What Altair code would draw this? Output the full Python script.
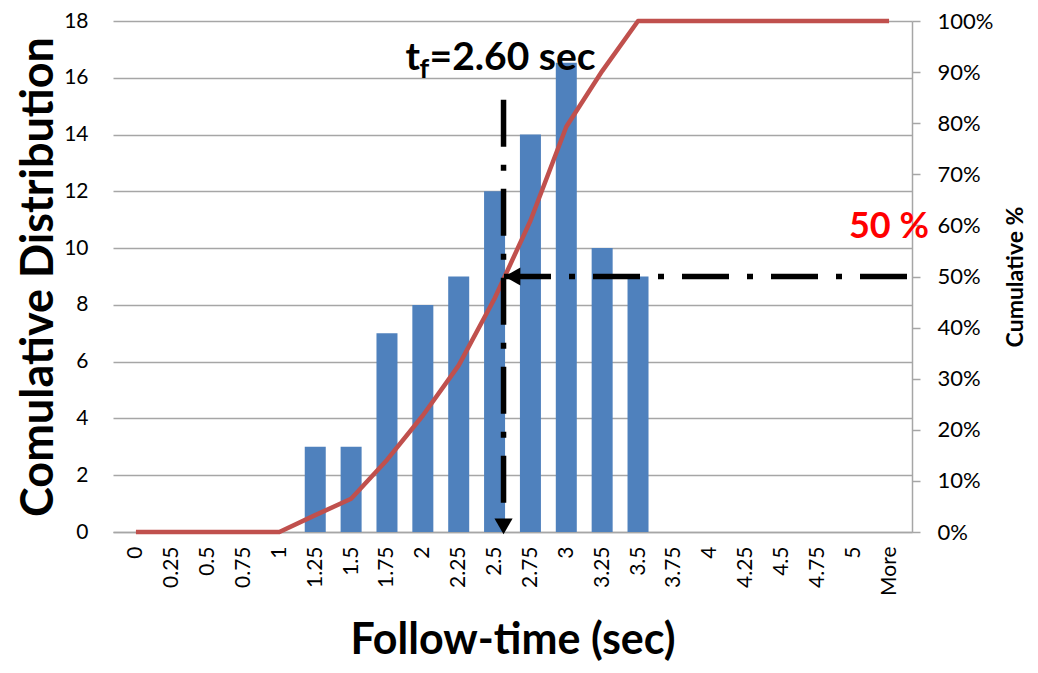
import json
import altair as alt
import pandas as pd

# ---- data ----
categories = ["0", "0.25", "0.5", "0.75", "1", "1.25", "1.5", "1.75", "2", "2.25",
              "2.5", "2.75", "3", "3.25", "3.5", "3.75", "4", "4.25", "4.5", "4.75",
              "5", "More"]
counts = [0, 0, 0, 0, 0, 3, 3, 7, 8, 9, 12, 14, 17, 10, 9, 0, 0, 0, 0, 0, 0, 0]
cum_pct = [0, 0, 0, 0, 0, 3.3, 6.5, 14.1, 22.8, 32.6, 45.7, 60.9, 79.3, 90.2, 100,
           100, 100, 100, 100, 100, 100, 100]

# ---- annotation values (data units: category index / count / percent) ----
tf_x = [10.25]            # where the t_f marker sits (between 2.5 and 2.75)
tf_top = [15.23]          # top of the vertical dash-dot line (count units)
tf_text_y = [16.28]       # baseline of the t_f label (count units)
half_pct = [50]           # horizontal 50 % reference
right_edge = [21.5]
box_x = [7.26]
box_x2 = [12.9]
box_y = [16.53]
box_y2 = [17.93]
down_arrow_y = [0.2]
left_arrow_x = [10.5]
fifty_label_y = [57.6]

FONT = "Lato"
GRID = "#A6A6A6"
n = len(categories)

df = pd.DataFrame({"idx": list(range(n)), "cat": categories,
                   "count": counts, "pct": cum_pct})

xscale = alt.Scale(domain=[-0.5, n - 0.5], nice=False, zero=False)
yc_scale = alt.Scale(domain=[0, 18], nice=False, zero=True)
yp_scale = alt.Scale(domain=[0, 100], nice=False, zero=True)

label_expr = json.dumps(categories).replace('"', "'") + "[datum.value]"

x_axis = alt.Axis(values=list(range(n)), labelExpr=label_expr, labelAngle=270,
                  labelFontSize=21, labelFont=FONT, labelColor="black",
                  labelPadding=14, labelOverlap=False, labelFlush=False,
                  labelBound=False, tickCount=n,
                  ticks=False, grid=False, domainColor=GRID, domainWidth=1.5,
                  title="Follow-time (sec)", titleFont=FONT, titleFontSize=43,
                  titleFontWeight="bold", titleColor="black", titlePadding=24)

yc_axis = alt.Axis(values=list(range(0, 19, 2)), orient="left", grid=True,
                   gridColor=GRID, gridWidth=1.5, ticks=False, domain=False,
                   labelFontSize=21, labelFont=FONT, labelColor="black",
                   labelPadding=25,
                   title="Comulative Distribution", titleFont=FONT,
                   titleFontSize=45, titleFontWeight="bold", titleColor="black",
                   titlePadding=2)

yp_axis = alt.Axis(values=list(range(0, 101, 10)), orient="right", grid=False,
                   labelExpr="datum.value + '%'", tickSize=8, tickColor=GRID,
                   tickWidth=1.5, domainColor=GRID, domainWidth=1.5,
                   labelFontSize=22, labelFont=FONT, labelColor="black",
                   labelPadding=17,
                   title="Cumulative %", titleFont=FONT, titleFontSize=23,
                   titleFontWeight="bold", titleColor="black", titleAngle=270,
                   titleBaseline="top", titlePadding=12)

base = alt.Chart(df)


def X(field):
    return alt.X(field, scale=xscale, axis=x_axis)


bars = base.mark_bar(color="#4F81BD", size=21).encode(
    x=X("idx:Q"),
    y=alt.Y("count:Q", scale=yc_scale, axis=yc_axis),
)

line = base.mark_line(color="#C0504D", strokeWidth=4.5, strokeJoin="round").encode(
    x=X("idx:Q"),
    y=alt.Y("pct:Q", scale=yp_scale, axis=yp_axis),
)

# white text-box fill behind the t_f label
box_df = pd.DataFrame({"x": box_x, "x2": box_x2, "y": box_y, "y2": box_y2})
box = alt.Chart(box_df).mark_rect(color="white").encode(
    x=X("x:Q"), x2="x2:Q",
    y=alt.Y("y:Q", scale=yc_scale, axis=None), y2="y2:Q",
)

vrule_df = pd.DataFrame({"x": tf_x, "y": tf_top, "y2": [0]})
vrule = alt.Chart(vrule_df).mark_rule(color="black", strokeWidth=5.5,
                                      strokeDash=[47, 18, 6, 18]).encode(
    x=X("x:Q"),
    y=alt.Y("y:Q", scale=yc_scale, axis=None), y2="y2:Q",
)

down_df = pd.DataFrame({"x": tf_x, "y": down_arrow_y})
down_arrow = alt.Chart(down_df).mark_point(shape="triangle-down", filled=True,
                                           color="black", size=330, opacity=1).encode(
    x=X("x:Q"),
    y=alt.Y("y:Q", scale=yc_scale, axis=None),
)

t_df = pd.DataFrame({"x": tf_x, "y": tf_text_y})
t_main = alt.Chart(t_df).mark_text(text="t", font=FONT, fontSize=39, fontWeight="bold",
                                   align="left", baseline="alphabetic", dx=-98,
                                   color="black").encode(
    x=X("x:Q"),
    y=alt.Y("y:Q", scale=yc_scale, axis=None),
)
t_sub = alt.Chart(t_df).mark_text(text="f", font=FONT, fontSize=27, fontWeight="bold",
                                  align="left", baseline="alphabetic", dx=-84, dy=8,
                                  color="black").encode(
    x=X("x:Q"),
    y=alt.Y("y:Q", scale=yc_scale, axis=None),
)
t_rest = alt.Chart(t_df).mark_text(text="=2.60 sec", font=FONT, fontSize=39,
                                   fontWeight="bold", align="left",
                                   baseline="alphabetic", dx=-74,
                                   color="black").encode(
    x=X("x:Q"),
    y=alt.Y("y:Q", scale=yc_scale, axis=None),
)

hrule_df = pd.DataFrame({"x": right_edge, "x2": tf_x, "y": half_pct})
hrule = alt.Chart(hrule_df).mark_rule(color="black", strokeWidth=5.5,
                                      strokeDash=[47, 18, 6, 18]).encode(
    x=X("x:Q"), x2="x2:Q",
    y=alt.Y("y:Q", scale=yp_scale, axis=None),
)

left_df = pd.DataFrame({"x": left_arrow_x, "y": half_pct})
left_arrow = alt.Chart(left_df).mark_point(shape="triangle-left", filled=True,
                                           color="black", size=330, opacity=1).encode(
    x=X("x:Q"),
    y=alt.Y("y:Q", scale=yp_scale, axis=None),
)

fifty_df = pd.DataFrame({"x": right_edge, "y": fifty_label_y})
fifty = alt.Chart(fifty_df).mark_text(text="50 %", font=FONT, fontSize=36,
                                      fontWeight="bold", color="#FF0000",
                                      align="right", baseline="alphabetic",
                                      dx=22).encode(
    x=X("x:Q"),
    y=alt.Y("y:Q", scale=yp_scale, axis=None),
)

chart = alt.layer(bars, line, box, vrule, down_arrow, t_main, t_sub, t_rest,
                  hrule, left_arrow, fifty).resolve_scale(
    y="independent"
).properties(
    width=799, height=511,
    autosize=alt.AutoSizeParams(type="none"),
    padding={"left": 105, "top": 13, "right": 118, "bottom": 133},
    background="white",
).configure_view(stroke=None)

chart.save("out.html", embed_options={"renderer": "svg", "actions": False})
